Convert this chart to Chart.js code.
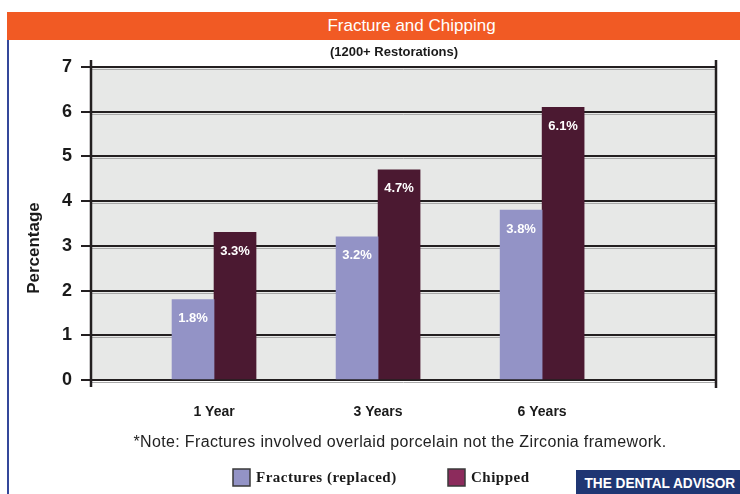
<!DOCTYPE html>
<html>
<head>
<meta charset="utf-8">
<script src="https://cdn.jsdelivr.net/npm/chart.js@4/dist/chart.umd.min.js"></script>
<style>
  html, body { margin: 0; padding: 0; background: #ffffff; }
  #wrap { position: relative; width: 740px; height: 494px; overflow: hidden; font-family: "Liberation Sans", Arial, sans-serif; }
  #chart { position: absolute; left: 0; top: 0; }
  #header { position: absolute; left: 7px; top: 12px; width: 733px; height: 28px; background: #f15a24; color: #fff;
            font-size: 17px; line-height: 28px; text-align: center; }
  #header span { position: relative; left: 38px; }
  #leftline { position: absolute; left: 7px; top: 40px; width: 2px; height: 454px; background: #34479a; }
  #subtitle { position: absolute; left: 0; top: 44px; width: 788px; text-align: center; font-weight: bold; font-size: 13px; color: #1a1a1a; }
  #note { position: absolute; left: 0; top: 433px; width: 800px; text-align: center; font-size: 16px; letter-spacing: 0.35px; color: #222; white-space: nowrap; }
  #logo { position: absolute; left: 576px; top: 470px; width: 164px; height: 24px; background: #1f3673; color: #fff;
          font-weight: bold; font-size: 15px; line-height: 25px; text-align: center; white-space: nowrap; }
  #logo span { display: inline-block; transform: scaleX(0.91); transform-origin: center; position: relative; left: 1px; }
</style>
</head>
<body>
<div id="wrap">
  <canvas id="chart" width="740" height="494"></canvas>
  <div id="header"><span>Fracture and Chipping</span></div>
  <div id="leftline"></div>
  <div id="subtitle">(1200+ Restorations)</div>
  <div id="note">*Note: Fractures involved overlaid porcelain not the Zirconia framework.</div>
  <div id="logo"><span>THE DENTAL ADVISOR</span></div>
</div>
<script>
const categories = ['1 Year', '3 Years', '6 Years'];
const fractures = [1.8, 3.2, 3.8];
const chipped = [3.3, 4.7, 6.1];
const yTicks = [0, 1, 2, 3, 4, 5, 6, 7];
const seriesNames = ['Fractures (replaced)', 'Chipped'];
const barColors = ['#9393c6', '#4b1931'];
const legendColors = ['#9393c6', '#8c2b5c'];

const toPoints = arr => arr.map((v, i) => ({ x: i, y: v }));

const decorPlugin = {
  id: 'decor',
  beforeDraw(chart) {
    const { ctx, chartArea: a } = chart;
    ctx.save();
    ctx.fillStyle = '#e7e8e7';
    ctx.fillRect(a.left, a.top, a.right - a.left, a.bottom - a.top);
    const ys = chart.scales.y;
    ctx.strokeStyle = '#a9a9a9';
    ctx.lineWidth = 1;
    yTicks.forEach(t => {
      const py = Math.round(ys.getPixelForValue(t)) + 2.5;
      ctx.beginPath(); ctx.moveTo(a.left, py); ctx.lineTo(a.right, py); ctx.stroke();
    });
    ctx.restore();
  },
  afterDraw(chart) {
    const { ctx, chartArea: a } = chart;
    ctx.save();
    ctx.strokeStyle = '#231f20';
    ctx.lineWidth = 2.5;
    ctx.beginPath(); ctx.moveTo(a.left, a.top - 7); ctx.lineTo(a.left, a.bottom + 7); ctx.stroke();
    ctx.beginPath(); ctx.moveTo(a.right, a.top - 7); ctx.lineTo(a.right, a.bottom + 8); ctx.stroke();
    ctx.fillStyle = '#ffffff';
    ctx.font = 'bold 13px "Liberation Sans", Arial, sans-serif';
    ctx.textAlign = 'center';
    ctx.textBaseline = 'middle';
    chart.data.datasets.forEach((ds, di) => {
      const meta = chart.getDatasetMeta(di);
      meta.data.forEach((bar, i) => {
        ctx.fillText(ds.data[i].y.toFixed(1) + '%', bar.x, bar.y + 19);
      });
    });
    ctx.fillStyle = '#1a1a1a';
    ctx.font = 'bold 17px "Liberation Sans", Arial, sans-serif';
    ctx.translate(34, 248);
    ctx.rotate(-Math.PI / 2);
    ctx.fillText('Percentage', 0, 0);
    ctx.restore();
    ctx.save();
    ctx.font = 'bold 15px "Liberation Serif", "Times New Roman", serif';
    ctx.letterSpacing = '0.5px';
    ctx.textBaseline = 'middle';
    ctx.textAlign = 'left';
    const boxXs = [233, 448];
    seriesNames.forEach((name, i) => {
      const bx = boxXs[i];
      ctx.fillStyle = legendColors[i];
      ctx.fillRect(bx, 469, 17, 17);
      ctx.strokeStyle = '#3a3a3a';
      ctx.lineWidth = 1.5;
      ctx.strokeRect(bx, 469, 17, 17);
      ctx.fillStyle = '#1a1a1a';
      ctx.fillText(name, bx + 23, 478);
    });
    ctx.restore();
  }
};

new Chart(document.getElementById('chart'), {
  type: 'bar',
  data: {
    datasets: [
      { label: seriesNames[0], data: toPoints(fractures), backgroundColor: barColors[0], barThickness: 42 },
      { label: seriesNames[1], data: toPoints(chipped), backgroundColor: barColors[1], barThickness: 42 }
    ]
  },
  options: {
    responsive: false,
    animation: false,
    layout: { padding: { left: 0, right: 24, top: 67, bottom: 74 } },
    plugins: { legend: { display: false }, tooltip: { enabled: false } },
    scales: {
      x: {
        type: 'linear',
        min: -0.75,
        max: 3.06,
        offset: false,
        bounds: 'data',
        afterBuildTicks: s => { s.ticks = categories.map((c, i) => ({ value: i })); },
        afterFit: s => { s.height = 40; },
        grid: { display: false, drawTicks: false, offset: false },
        border: { display: false },
        ticks: {
          padding: 24,
          color: '#1a1a1a',
          font: { family: '"Liberation Sans", Arial, sans-serif', size: 14, weight: 'bold' },
          callback: v => categories[v] ?? ''
        }
      },
      y: {
        min: 0,
        max: 7,
        afterBuildTicks: s => { s.ticks = yTicks.map(v => ({ value: v })); },
        afterFit: s => { s.width = 91; },
        grid: { color: '#231f20', lineWidth: 2, tickLength: 10, drawTicks: true },
        border: { display: false },
        ticks: {
          padding: 9,
          color: '#1a1a1a',
          font: { family: '"Liberation Sans", Arial, sans-serif', size: 18, weight: 'bold' }
        }
      }
    }
  },
  plugins: [decorPlugin]
});
</script>
</body>
</html>
